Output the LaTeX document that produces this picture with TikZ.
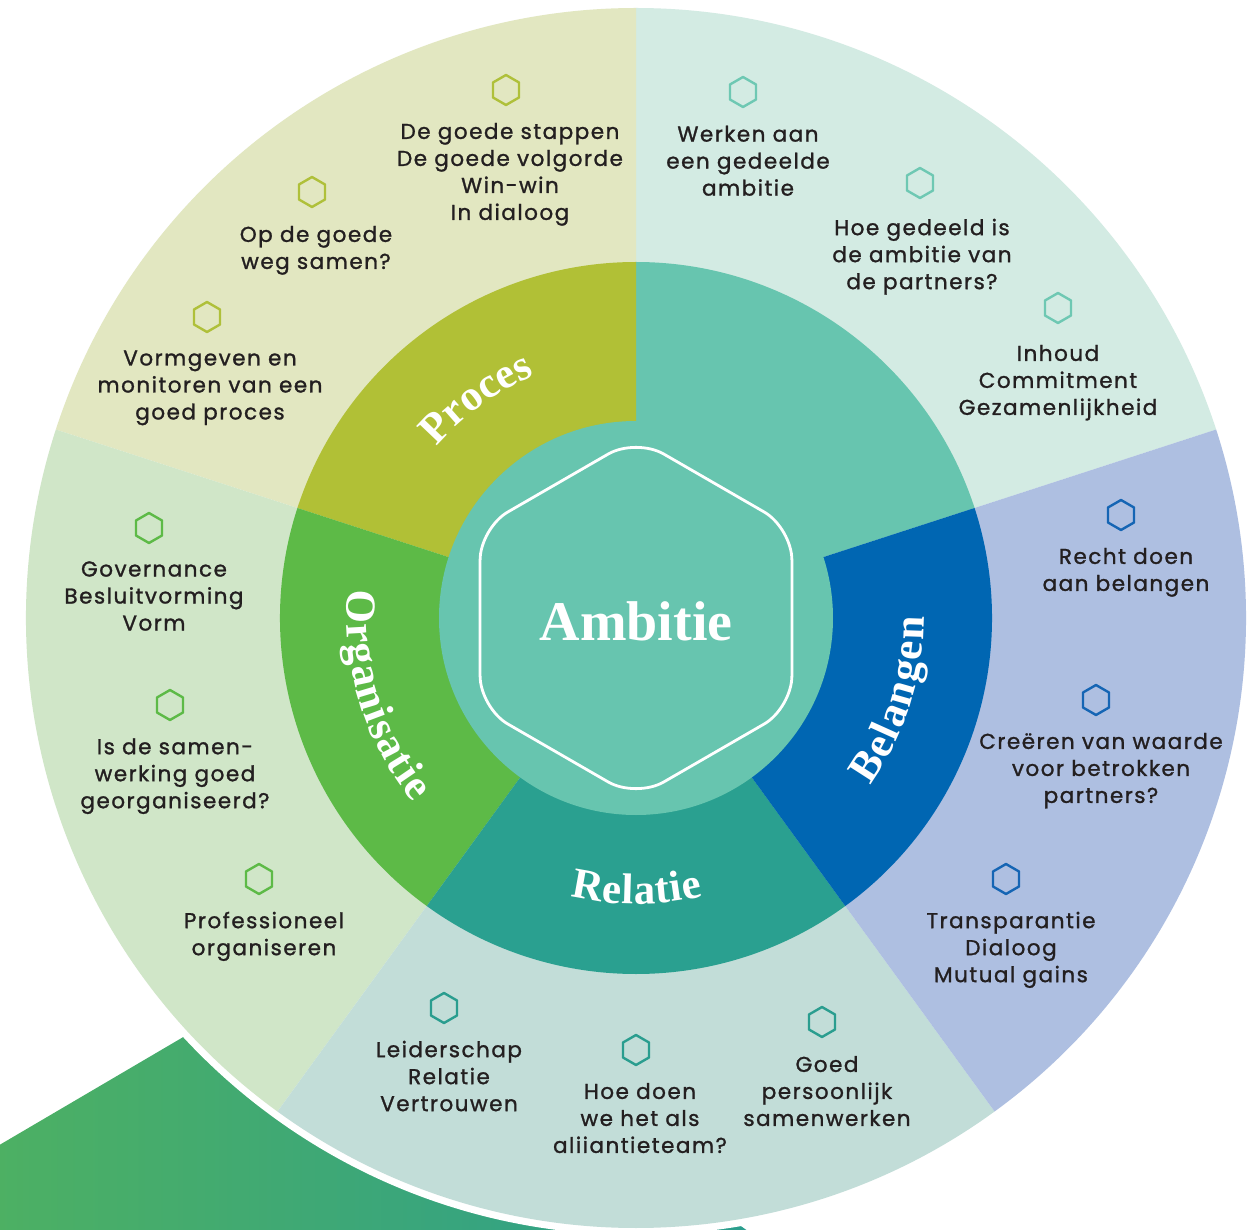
\documentclass[tikz,border=0pt]{standalone}
\usepackage{fontspec}
\usetikzlibrary{shapes.geometric,decorations.text}
\newfontfamily\labfont{Poppins}[LetterSpace=7,FakeBold=1.2]
\newfontfamily\serffont{Liberation Serif}
\newcommand\crvfont{\serffont\bfseries\fontsize{43}{50}\selectfont}
\definecolor{procmid}{HTML}{B1C036}
\definecolor{procout}{HTML}{E2E7C1}
\definecolor{ambmid}{HTML}{67C5AF}
\definecolor{ambout}{HTML}{D3EBE3}
\definecolor{belmid}{HTML}{0066B2}
\definecolor{belout}{HTML}{AEBFE1}
\definecolor{relmid}{HTML}{2AA090}
\definecolor{relout}{HTML}{C2DDD8}
\definecolor{orgmid}{HTML}{5DBA47}
\definecolor{orgout}{HTML}{D0E6C8}
\definecolor{procico}{HTML}{AFC03A}
\definecolor{ambico}{HTML}{6EC8B3}
\definecolor{belico}{HTML}{1565B4}
\definecolor{relico}{HTML}{2A9D8F}
\definecolor{orgico}{HTML}{5DBA47}
\definecolor{labtext}{HTML}{231F20}
\definecolor{gradL}{HTML}{4DB063}
\definecolor{gradR}{HTML}{2A9D8F}
\tikzset{
  lab/.style={font=\labfont\fontsize{21.5}{27}\selectfont, text=labtext, align=center,
    inner sep=0pt, execute at begin node=\strut, execute at end node=\strut},
  ico/.style={draw=#1, regular polygon, regular polygon sides=6, shape border rotate=30,
    minimum size=30pt, inner sep=0pt, line width=2.4pt, line join=round},
  crv/.style={decorate, decoration={text along path, text align=center, text color=white,
    text={|\crvfont|#1}}},
  crvfit/.style={decorate, decoration={text along path, text align={fit to path}, text color=white,
    text={|\crvfont|#1}}},
}
\begin{document}
\begin{tikzpicture}[x=1pt,y=1pt]
\useasboundingbox (-636,-611) rectangle (622,618);
% gradient shape at bottom left
\shade[left color=gradL, right color=gradR] (-640,-529) -- (-296,-327) -- (129,-625) -- (-640,-625) -- cycle;
% white border
\fill[white] (0,0) circle (617);
% outer sectors
\fill[ambout] (0,0) -- (18:610) arc[start angle=18, end angle=90, radius=610] -- cycle;
\fill[procout] (0,0) -- (90:610) arc[start angle=90, end angle=162, radius=610] -- cycle;
\fill[orgout] (0,0) -- (162:610) arc[start angle=162, end angle=234, radius=610] -- cycle;
\fill[relout] (0,0) -- (234:610) arc[start angle=234, end angle=306, radius=610] -- cycle;
\fill[belout] (0,0) -- (306:610) arc[start angle=306, end angle=378, radius=610] -- cycle;
% middle sectors
\fill[ambmid] (0,0) -- (18:356) arc[start angle=18, end angle=90, radius=356] -- cycle;
\fill[procmid] (0,0) -- (90:356) arc[start angle=90, end angle=162, radius=356] -- cycle;
\fill[orgmid] (0,0) -- (162:356) arc[start angle=162, end angle=234, radius=356] -- cycle;
\fill[relmid] (0,0) -- (234:356) arc[start angle=234, end angle=306, radius=356] -- cycle;
\fill[belmid] (0,0) -- (306:356) arc[start angle=306, end angle=378, radius=356] -- cycle;
% centre
\fill[ambmid] (0,0) circle (197);
\draw[white, line width=2.8pt, rounded corners=32pt] (-155.9,0) -- (-155.9,-90) -- (0,-180) -- (155.9,-90) -- (155.9,90) -- (0,180) -- (-155.9,90) -- cycle;
\node[font=\serffont\bfseries\fontsize{56}{60}\selectfont, text=white, anchor=base, inner sep=0pt] (amb) at (0,-22) {Ambitie};
% curved labels
\path[crv=Proces] (160:263) arc[start angle=160, end angle=92, radius=263];
\path[crvfit=Organisatie] (174.4:289) arc[start angle=174.4, end angle=219.6, radius=289];
\path[crvfit=Relatie] (256.7:286) arc[start angle=256.7, end angle=283.5, radius=286];
\path[crvfit=Belangen] (324.4:288) arc[start angle=324.4, end angle=360.2, radius=288];
% Proces
\node[ico=procico] (i1) at (-130,528) {};
\node[lab] (t1) at (-126,442.5) {De goede stappen\\De goede volgorde\\Win-win\\In dialoog};
\node[ico=procico] (i2) at (-324,426) {};
\node[lab] (t2) at (-320,366.5) {Op de goede\\weg samen?};
\node[ico=procico] (i3) at (-429,301) {};
\node[lab] (t3) at (-426,229) {Vormgeven en\\monitoren van een\\goed proces};
% Ambitie
\node[ico=ambico] (i4) at (107,526) {};
\node[lab] (t4) at (112,453.3) {Werken aan\\een gedeelde\\ambitie};
\node[ico=ambico] (i5) at (284,435) {};
\node[lab] (t5) at (286,360) {Hoe gedeeld is\\de ambitie van\\de partners?};
\node[ico=ambico] (i6) at (422,310) {};
\node[lab] (t6) at (422,234) {Inhoud\\Commitment\\Gezamenlijkheid};
% Belangen
\node[ico=belico] (i7) at (485,103) {};
\node[lab] (t7) at (490,44.5) {Recht doen\\aan belangen};
\node[ico=belico] (i8) at (460,-82) {};
\node[lab] (t8) at (465,-154) {Creëren van waarde\\voor betrokken\\partners?};
\node[ico=belico] (i9) at (370,-261) {};
\node[lab] (t9) at (375,-333) {Transparantie\\Dialoog\\Mutual gains};
% Relatie
\node[ico=relico] (i10) at (-192,-390) {};
\node[lab] (t10) at (-187,-462) {Leiderschap\\Relatie\\Vertrouwen};
\node[ico=relico] (i11) at (0,-432) {};
\node[lab] (t11) at (4,-504) {Hoe doen\\we het als\\aliiantieteam?};
\node[ico=relico] (i12) at (186,-404) {};
\node[lab] (t12) at (191,-477) {Goed\\persoonlijk\\samenwerken};
% Organisatie
\node[ico=orgico] (i13) at (-487,90) {};
\node[lab] (t13) at (-482,18) {Governance\\Besluitvorming\\Vorm};
\node[ico=orgico] (i14) at (-466,-87) {};
\node[lab] (t14) at (-461,-159.3) {Is de samen-\\werking goed\\georganiseerd?};
\node[ico=orgico] (i15) at (-377,-261) {};
\node[lab] (t15) at (-372,-319.5) {Professioneel\\organiseren};
\end{tikzpicture}
\end{document}
